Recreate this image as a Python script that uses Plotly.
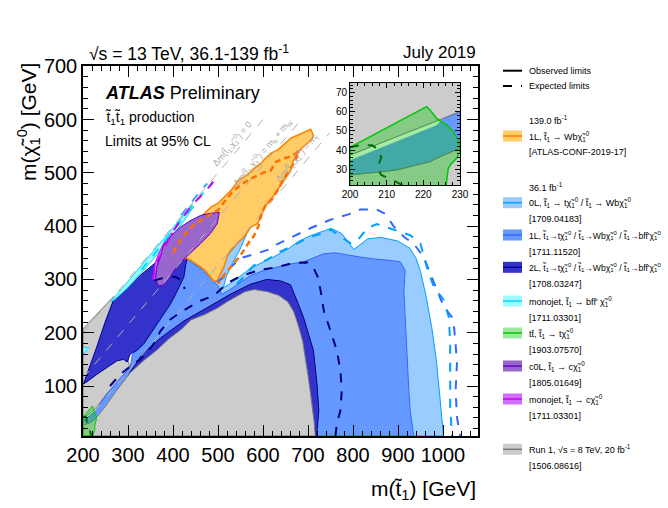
import plotly.graph_objects as go

# ---------------- data (GeV) ----------------
# Run 1 (8 TeV) excluded regions
run1_main_x = [200, 716, 714, 710, 705, 700, 695, 688, 678, 668, 655, 635, 610, 580, 560, 540, 520, 498, 470, 440, 418, 390, 365, 335, 305, 275, 250, 230, 225.5, 221.8, 212.7, 200]
run1_main_y = [6.3, 6.3, 30, 60, 90, 120, 150, 185, 215, 240, 258, 270, 277, 281, 277, 268, 258, 246, 234, 224, 206, 188, 168, 148, 125, 92, 62, 40.9, 37.4, 34, 29.6, 27]
run1_left_x = [200, 200, 268, 280, 300, 300, 305, 283, 253, 230]
run1_left_y = [37.4, 207, 268, 250, 200, 150, 130, 112, 86, 60]

# 0L (36.1 fb-1) observed
zeroL_x = [1001, 998, 992, 985, 975, 962, 950, 940, 927, 900, 862, 832, 815, 802, 795, 775, 752, 730, 705, 680, 655, 625, 595, 572, 555, 540, 525, 512,
           518, 532, 548, 562, 574, 568, 555, 540, 525, 505, 485, 462, 445, 432, 430, 460, 600]
zeroL_y = [6.3, 30, 90, 150, 210, 270, 315, 340, 358, 372, 379, 376, 364, 356, 364, 386, 396, 390, 382, 372, 357, 343, 330, 321, 310, 300, 291, 285,
           305, 330, 355, 382, 405, 405, 385, 365, 348, 332, 318, 322, 330, 336, 300, 250, 6.3]
zeroL_exp_x = [542, 557, 579, 609, 638, 676, 705, 735, 750, 772, 794, 809, 831, 853, 898, 927, 950, 965, 979, 1001, 1013, 1016, 1016, 1016, 1020]
zeroL_exp_y = [292, 304, 326, 337, 352, 368, 380, 387, 394, 381, 368, 372, 396, 404, 392, 383, 367, 320, 287, 262, 229, 179, 117, 61, 6.3]
diag_exp_x = [418, 432, 446, 460, 476]
diag_exp_y = [420, 436, 450, 465, 480]

# 1L (36.1 fb-1) observed
oneL_x = [935, 927, 924, 920, 916, 913, 916, 905, 880, 850, 816, 787, 760, 735, 710, 690, 661, 631, 602, 572, 550, 527, 508,
          500, 485, 465, 445, 432, 425, 415, 400, 385, 370, 355, 340, 325, 310, 305, 283, 253, 230, 215, 200, 200]
oneL_y = [6.3, 54, 92, 154, 217, 279, 317, 333, 336, 338, 342, 346, 350, 348, 340, 333, 329, 323, 317, 307, 294, 281, 272,
          288, 302, 318, 330, 338, 320, 290, 260, 240, 222, 203, 186, 172, 160, 135, 115, 85, 56, 44, 34.8, 6.3]
oneL_exp_x = [498, 513, 527, 550, 579, 609, 631, 668, 705, 750, 790, 816, 853, 872, 890, 913, 935, 957, 972, 987, 1001, 1020, 1024, 1028, 1031, 1028, 1031, 1038]
oneL_exp_y = [295, 305, 322, 340, 347, 355, 366, 381, 396, 412, 422, 431, 431, 423, 400, 380, 367, 342, 311, 279, 250, 229, 215, 179, 142, 92, 42, 6.3]

# 2L (36.1 fb-1) observed: compressed-diagonal region and band along Run 1
twoL_diag_x = [201, 209, 231, 253, 275, 290, 298, 305, 320, 335, 350, 364, 379, 394, 409, 424, 431, 418, 410, 405, 398, 379, 342, 305, 268, 250, 230, 210]
twoL_diag_y = [104, 108, 122, 135, 147, 150, 145, 160, 167, 179, 197, 216, 235, 254, 278, 304, 342, 338, 345, 360, 366, 344, 318, 292, 262, 222, 172, 125]
twoL_band_x = [300, 330, 372, 424, 476, 527, 572, 609, 640, 661, 678, 690, 712, 720, 724, 719, 600]
twoL_band_y = [120, 158, 190, 222, 247, 272, 291, 300, 297, 290, 255, 229, 167, 104, 54, 6.3, 6.3]
twoL_exp_x = [260, 283, 305, 327, 342, 357, 372, 394, 416, 439, 461, 485, 498, 513, 527, 550, 572, 594, 631, 668, 698, 712, 722, 728, 735, 750, 764, 772, 775, 772, 764, 761]
twoL_exp_y = [100, 122, 137, 150, 162, 179, 203, 225, 238, 250, 260, 268, 275, 287, 296, 306, 312, 318, 323, 331, 332, 322, 304, 279, 242, 204, 167, 129, 92, 54, 29, 6.3]
twoL_exp2_x = [358, 380, 405, 420, 426]
twoL_exp2_y = [298, 303, 305, 298, 282]

# 1L (139 fb-1)
oneL139_x = [408, 418, 428, 440, 455, 470, 485, 500, 515, 530, 545, 565, 580, 596, 605, 618, 633, 650, 662, 678, 695, 706, 712, 708, 698, 688, 676, 668, 662, 648, 633, 618, 604, 596, 588, 573, 558, 543, 528, 520, 513, 505, 498, 490, 470, 450, 431, 420]
oneL139_y = [335, 362, 380, 398, 412, 424, 436, 443, 455, 468, 486, 496, 508, 518, 527, 537, 543, 556, 565, 571, 578, 582, 570, 562, 555, 548, 537, 524, 505, 487, 468, 450, 437, 418, 405, 398, 380, 368, 355, 342, 323, 310, 296, 298, 318, 330, 340, 338]
oneL139_exp_x = [400, 420, 440, 460, 480, 500, 520, 535, 555, 575, 600, 617, 628, 645, 660, 680, 670, 657, 645, 635, 620, 605, 596, 590, 580, 565, 550, 535, 515, 500]
oneL139_exp_y = [350, 378, 398, 410, 420, 430, 452, 467, 480, 490, 500, 504, 520, 527, 530, 540, 520, 503, 488, 470, 452, 438, 422, 400, 382, 365, 345, 330, 310, 292]

# monojet, stop -> b f f' chi
mono_bff_x = [262, 300, 340, 380, 420, 442, 446, 420, 380, 340, 300, 270]
mono_bff_y = [258, 297, 337, 377, 417, 440, 436, 405, 362, 322, 285, 262]
mono_bff2_x = [200, 213, 200]
mono_bff2_y = [160, 172, 172]
mono_bff_exp_x = [330, 360, 390, 420, 445, 465, 478, 487]
mono_bff_exp_y = [318, 350, 380, 412, 440, 460, 473, 482]

# c0L and monojet, stop -> c chi
c0L_x = [361, 364, 372, 379, 394, 416, 438, 461, 483, 503, 498, 483, 461, 440, 424, 405, 390, 380, 368]
c0L_y = [300, 323, 342, 365, 380, 398, 410, 420, 424, 426, 404, 386, 367, 350, 338, 320, 300, 290, 288]
mono_c_x = [356, 360, 370, 382, 396, 400, 388, 376, 366, 361]
mono_c_y = [300, 330, 352, 372, 387, 386, 372, 352, 330, 300]
mono_c_exp_x = [355, 362, 372, 384, 396, 416, 440, 465, 485, 497]
mono_c_exp_y = [300, 330, 345, 365, 385, 410, 437, 460, 478, 493]

# ttbar + MET, stop -> t chi
ttbar_x = [200, 220.9, 221.8, 223.6, 226.4, 228.2, 229.5, 230, 230, 229.1, 227.7, 226.8, 226.5, 226, 224, 222, 200]
ttbar_y = [41.4, 62.7, 61, 56.6, 53.1, 49.6, 45.3, 41.8, 39.2, 35.7, 33.1, 30.5, 26.1, 18, 10, 6.3, 6.3]
ttbar_exp_x = [200, 203, 206, 208, 208.5, 207.5, 208.5, 211, 214, 216, 218]
ttbar_exp_y = [41.5, 42.7, 42.5, 40, 36, 31, 27, 25, 22, 14, 6.3]

# inset detail (200-230 GeV)
inset_bg_x = [200, 230, 230, 200]
inset_bg_y = [21.8, 21.8, 75.2, 75.2]
inset_strip_x = [200, 223.6, 225.5, 230, 230, 225.5, 221.8, 212.7, 200]
inset_strip_y = [34.8, 53.1, 56.6, 60, 40.9, 37.4, 34, 29.6, 27]
inset_white_x = [200, 200, 225.2, 223.6]
inset_white_y = [34.8, 37.4, 56.2, 53.1]
inset_run1_x = [200, 230]
inset_run1_y = [37.4, 60]
inset_run1b_x = [200, 212.7, 221.8, 225.5, 230]
inset_run1b_y = [27, 29.6, 34, 37.4, 40.9]

# theory lines: dm = 0, m_W + m_b, m_t
dm_vals = [0, 85, 173]
dm_xmax = [605, 686, 748]
xticks_main = [200, 300, 400, 500, 600, 700, 800, 900, 1000]
yticks_main = [100, 200, 300, 400, 500, 600, 700]

# ---------------- figure ----------------
fig = go.Figure()
FONT = "Liberation Sans, Arial, Helvetica, sans-serif"


def poly(xs, ys, fill, line, width=1.0, xa="x", ya="y"):
    fig.add_trace(go.Scatter(x=list(xs) + [xs[0]], y=list(ys) + [ys[0]], fill="toself",
                             fillcolor=fill, mode="lines", line=dict(color=line, width=width),
                             hoverinfo="skip", showlegend=False, xaxis=xa, yaxis=ya))


def path(xs, ys, color, width=1.5, dash="dash", xa="x", ya="y"):
    fig.add_trace(go.Scatter(x=xs, y=ys, mode="lines", line=dict(color=color, width=width, dash=dash),
                             hoverinfo="skip", showlegend=False, xaxis=xa, yaxis=ya))


C = dict(
    zeroL=("rgb(153,204,255)", "rgb(0,160,255)"),
    oneL=("rgb(102,153,255)", "rgb(51,102,255)"),
    twoL=("rgb(51,51,204)", "rgb(0,0,130)"),
    orange=("rgb(255,204,102)", "rgb(255,128,0)"),
    cyan=("rgb(160,250,255)", "rgb(0,215,255)"),
    green=("rgba(0,200,0,0.35)", "rgb(0,200,0)"),
    purple=("rgb(153,102,204)", "rgb(102,0,204)"),
    magenta=("rgb(210,110,255)", "rgb(204,0,255)"),
    gray=("rgb(204,204,204)", "rgb(120,120,120)"),
)

poly(run1_left_x, run1_left_y, *C["gray"])
poly(zeroL_x, zeroL_y, *C["zeroL"])
poly(oneL_x, oneL_y, *C["oneL"])
poly(twoL_diag_x, twoL_diag_y, *C["twoL"])
poly(twoL_band_x, twoL_band_y, *C["twoL"])
poly(run1_main_x, run1_main_y, *C["gray"])
poly(oneL139_x, oneL139_y, *C["orange"], width=1.5)
poly(mono_bff_x, mono_bff_y, *C["cyan"])
poly(mono_bff2_x, mono_bff2_y, *C["cyan"])
poly(mono_c_x, mono_c_y, *C["magenta"])
poly(c0L_x, c0L_y, *C["purple"])
poly(ttbar_x, ttbar_y, *C["green"])

# theory diagonals
for dm, xm in zip(dm_vals, dm_xmax):
    path([200, xm], [200 - dm, xm - dm], "rgb(175,175,175)", width=1, dash="dash")

# expected limits
path(twoL_exp_x, twoL_exp_y, "rgb(0,0,130)", 2)
path(twoL_exp2_x, twoL_exp2_y, "rgb(0,0,130)", 2)
path(oneL_exp_x, oneL_exp_y, "rgb(51,102,255)", 2)
path(zeroL_exp_x, zeroL_exp_y, "rgb(0,160,255)", 2)
path(diag_exp_x, diag_exp_y, "rgb(60,160,255)", 2)
path(oneL139_exp_x, oneL139_exp_y, "rgb(255,110,0)", 2.5, dash="6px,4px")
path(mono_bff_exp_x, mono_bff_exp_y, "rgb(0,215,255)", 2)
path(mono_c_exp_x, mono_c_exp_y, "rgb(204,0,255)", 2)
path(ttbar_exp_x, ttbar_exp_y, "rgb(0,110,0)", 2)

# inset
poly(inset_bg_x, inset_bg_y, "rgb(204,204,204)", "rgba(0,0,0,0)", 0, "x2", "y2")
poly(inset_strip_x, inset_strip_y, *C["oneL"], width=0.5, xa="x2", ya="y2")
poly(inset_white_x, inset_white_y, "white", "white", 0.5, "x2", "y2")
path(inset_run1_x, inset_run1_y, "rgb(110,110,110)", 1, "solid", "x2", "y2")
path(inset_run1b_x, inset_run1b_y, "rgb(110,110,110)", 1, "solid", "x2", "y2")
poly(ttbar_x, ttbar_y, *C["green"], width=1.5, xa="x2", ya="y2")
path(ttbar_exp_x, ttbar_exp_y, "rgb(0,110,0)", 2, "dash", "x2", "y2")

# ---------------- layout ----------------
L, R, T, B = 83, 190, 66, 72
W, H = 668, 508
PW, PH = W - L - R, H - T - B


def px(x):
    return (x - L) / PW


def py(y):
    return (H - B - y) / PH


axis_common = dict(showgrid=False, zeroline=False, showline=True, linecolor="black", linewidth=1.5,
                   mirror="allticks", ticks="inside", ticklen=11, tickwidth=1, tickcolor="black")

fig.update_layout(
    width=W, height=H, margin=dict(l=L, r=R, t=T, b=B, autoexpand=False),
    plot_bgcolor="white", paper_bgcolor="white", showlegend=False,
    font=dict(family=FONT, color="black"),
    xaxis=dict(range=[200, 200 + PW / 0.45], tickvals=xticks_main, tickfont=dict(size=20),
               minor=dict(dtick=20, tick0=200, ticklen=5, ticks="inside", tickcolor="black"), **axis_common),
    yaxis=dict(range=[700 - PH / 0.5333, 700.5], tickvals=yticks_main, tickfont=dict(size=20),
               minor=dict(dtick=20, tick0=0, ticklen=5, ticks="inside", tickcolor="black"), **axis_common),
    xaxis2=dict(domain=[px(350), px(460)], anchor="y2", range=[200, 230], tickvals=[200, 210, 220, 230],
                tickfont=dict(size=10), showgrid=False, zeroline=False, showline=True, linecolor="black",
                linewidth=1, mirror="allticks", ticks="inside", ticklen=5, tickcolor="black",
                minor=dict(dtick=2, tick0=200, ticklen=3, ticks="inside", tickcolor="black")),
    yaxis2=dict(domain=[py(185), py(82.7)], anchor="x2", range=[21.8, 75.2], tickvals=[30, 40, 50, 60, 70],
                tickfont=dict(size=10), showgrid=False, zeroline=False, showline=True, linecolor="black",
                linewidth=1, mirror="allticks", ticks="inside", ticklen=5, tickcolor="black",
                minor=dict(dtick=2, tick0=20, ticklen=3, ticks="inside", tickcolor="black")),
)

ann = []


def text(x, y, s, size, xanchor="left", color="black", angle=0, xref="paper", yref="paper"):
    ann.append(dict(x=x, y=y, xref=xref, yref=yref, text=s, showarrow=False, xanchor=xanchor,
                    yanchor="middle", font=dict(size=size, color=color, family=FONT), textangle=angle))


TT = "t\u0303<sub>1</sub>"
CHI = "\u03c7\u0303<sub>1</sub><sup>0</sup>"

text(px(87), py(53), "\u221as = 13 TeV, 36.1-139 fb<sup>-1</sup>", 17.5)
text(px(478), py(53), "July 2019", 17)
ann[-1]["xanchor"] = "right"
text(px(103), py(93), "<b><i>ATLAS</i></b> Preliminary", 18)
text(px(103), py(118), TT + TT + " production", 14)
text(px(103), py(141), "Limits at 95% CL", 14)
text(px(478), py(490), "m(" + TT + ") [GeV]", 21, xanchor="right")
ann.append(dict(x=px(28), y=py(122), xref="paper", yref="paper", text="m(" + CHI + ") [GeV]",
                showarrow=False, textangle=-90, xanchor="center", yanchor="middle",
                font=dict(size=21, family=FONT, color="black")))

# diagonal labels
lab = ["\u0394m(" + TT + "," + CHI + ") = 0",
       "\u0394m(" + TT + "," + CHI + ") = m<sub>b</sub> + m<sub>W</sub>",
       "\u0394m(" + TT + "," + CHI + ") = m<sub>t</sub>"]
lab_pos = [(531, 556), (598, 538), (675, 528)]
for s, (lx, ly) in zip(lab, lab_pos):
    ann.append(dict(x=lx, y=ly, xref="x", yref="y", text=s, showarrow=False, textangle=-49.8,
                    xanchor="center", yanchor="middle", font=dict(size=9, color="rgb(170,170,170)", family=FONT)))

# legend
shapes = []
LX0, LX1, LT = px(503), px(522), px(527)


def leg_line(ypix, dash):
    shapes.append(dict(type="line", xref="paper", yref="paper", x0=LX0, x1=LX1, y0=py(ypix), y1=py(ypix),
                       line=dict(color="black", width=2, dash=dash)))


def leg_patch(ypix, fill, line):
    shapes.append(dict(type="rect", xref="paper", yref="paper", x0=LX0, x1=LX1, y0=py(ypix + 5.5),
                       y1=py(ypix - 5.5), fillcolor=fill, line=dict(width=0)))
    shapes.append(dict(type="line", xref="paper", yref="paper", x0=LX0, x1=LX1, y0=py(ypix), y1=py(ypix),
                       line=dict(color=line, width=1.5)))


leg_line(70.7, "solid")
text(LT, py(70.7), "Observed limits", 9)
leg_line(86, "dash")
text(LT, py(86), "Expected limits", 9)
text(LT, py(120), "139.0 fb<sup>-1</sup>", 9)
leg_patch(136, "rgb(255,204,102)", "rgb(255,128,0)")
text(LT, py(136), "1L, " + TT + " \u2192 Wb" + CHI, 9)
text(LT, py(152), "[ATLAS-CONF-2019-17]", 9)
text(LT, py(186.7), "36.1 fb<sup>-1</sup>", 9)

LONG = " / " + TT + "\u2192bff'" + CHI
entries = [
    (202.7, C["zeroL"], "0L, " + TT + " \u2192 t" + CHI + " / " + TT + " \u2192 Wb" + CHI, "[1709.04183]", 9),
    (235, C["oneL"], "1L, " + TT + "\u2192t" + CHI + " / " + TT + "\u2192Wb" + CHI + LONG, "[1711.11520]", 8.6),
    (267.3, C["twoL"], "2L, " + TT + "\u2192t" + CHI + " / " + TT + "\u2192Wb" + CHI + LONG, "[1708.03247]", 8.6),
    (301, C["cyan"], "monojet, " + TT + " \u2192 bff' " + CHI, "[1711.03301]", 9),
    (333, ("rgb(160,232,160)", "rgb(0,200,0)"), "tt\u0304, " + TT + " \u2192 t" + CHI, "[1903.07570]", 9),
    (366, C["purple"], "c0L, " + TT + " \u2192 c" + CHI, "[1805.01649]", 9),
    (399, C["magenta"], "monojet, " + TT + " \u2192 c" + CHI, "[1711.03301]", 9),
    (449.3, C["gray"], "Run 1, \u221as = 8 TeV, 20 fb<sup>-1</sup>", "[1506.08616]", 9),
]
for ypix, (fc, lc), s, ref, fs in entries:
    leg_patch(ypix, fc, lc)
    text(LT, py(ypix), s, fs)
    text(LT, py(ypix + 16.5), ref, 9)

fig.update_layout(annotations=ann, shapes=shapes)
fig.write_html("out.html")
